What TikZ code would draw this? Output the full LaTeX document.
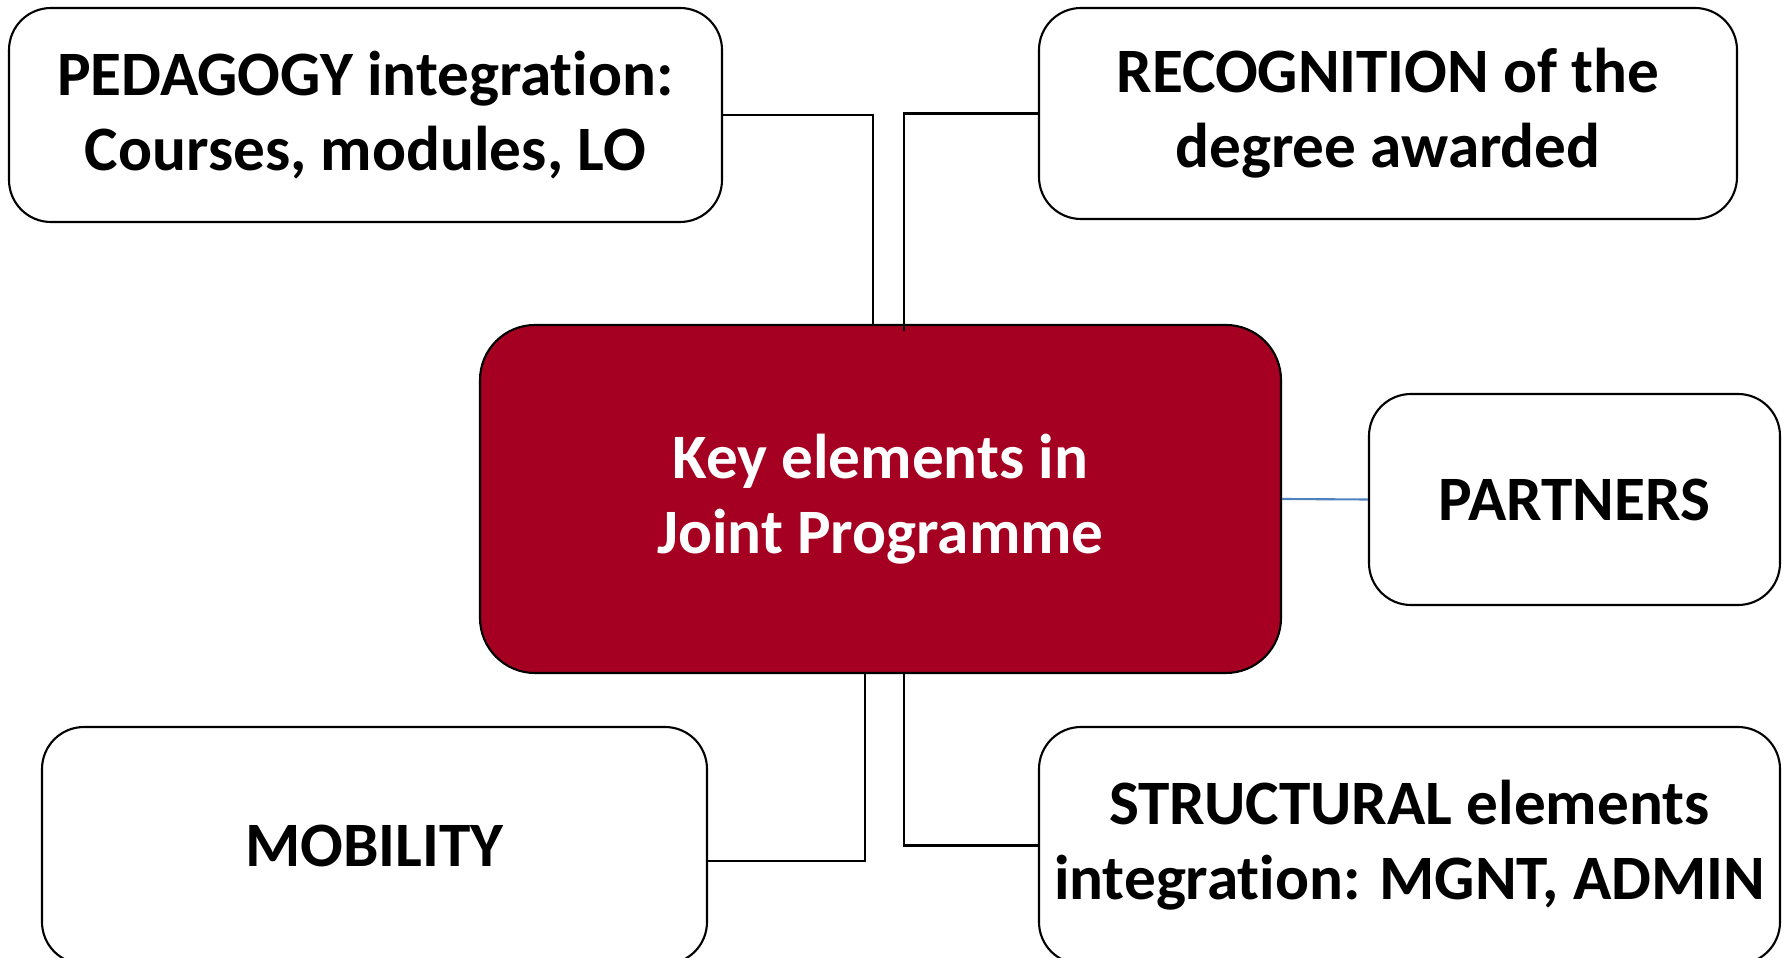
\documentclass[tikz,border=0pt]{standalone}
\usepackage{fontspec}
\setmainfont[Ligatures=NoCommon]{Carlito}
\usetikzlibrary{positioning}
\definecolor{keyred}{RGB}{165,0,33}
\definecolor{linkblue}{RGB}{79,129,189}

\begin{document}
\begin{tikzpicture}[every node/.style={draw=black,line width=0.6pt,rounded corners=0.42cm,align=center,inner sep=0pt,font=\fontsize{18}{21.3}\selectfont\bfseries}]
	\useasboundingbox (0,0) rectangle (17.89,9.58);
	\node [minimum width=7.13cm, minimum height=2.14cm] (ped) at (3.655,8.43) {PEDAGOGY integration:\\Courses, modules, LO};
	\node [minimum width=6.98cm, minimum height=2.11cm] (rec) at (13.88,8.445) {RECOGNITION of the\\degree awarded};
	\node [fill=keyred, text=white, rounded corners=0.55cm, minimum width=8.01cm, minimum height=3.48cm] (cen) at (8.805,4.59) {Key elements in\\Joint Programme};
	\node [minimum width=4.11cm, minimum height=2.11cm] (par) at (15.745,4.585) {PARTNERS};
	\node [minimum width=6.65cm, minimum height=2.37cm] (mob) at (3.745,1.125) {MOBILITY};
	\node [minimum width=7.41cm, minimum height=2.37cm] (str) at (14.095,1.125) {STRUCTURAL elements\\integration: MGNT, ADMIN};

	\draw[line width=0.6pt] (ped.east) -| ([xshift=-0.075cm]cen.north);
	\draw[line width=0.6pt] (rec.west) -| ([xshift=0.235cm,yshift=-0.07cm]cen.north);
	\draw[line width=0.6pt, linkblue] (cen.east) -- (par.west);
	\draw[line width=0.6pt] ([yshift=-0.155cm]mob.east) -| ([xshift=-0.155cm]cen.south);
	\draw[line width=0.6pt] (str.west) -| ([xshift=0.235cm]cen.south);
\end{tikzpicture}
\end{document}
